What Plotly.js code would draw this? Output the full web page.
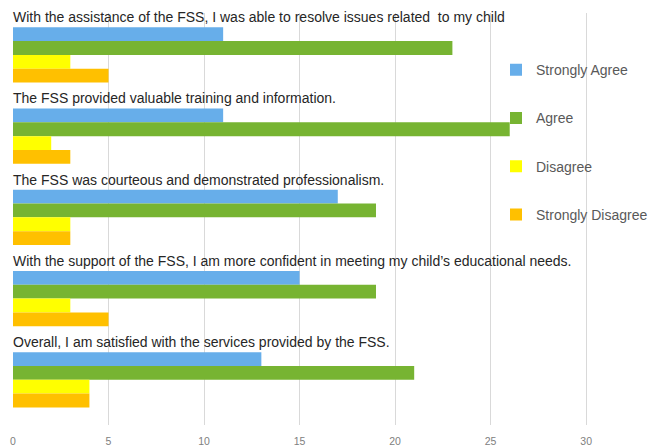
<!DOCTYPE html>
<html><head><meta charset="utf-8">
<script src="https://cdn.plot.ly/plotly-3.0.1.min.js"></script>
<style>html,body{margin:0;padding:0;background:#fff}#chart{width:653px;height:447px}</style>
</head><body><div id="chart"></div>
<script>
const categories = [
  "With the assistance of the FSS, I was able to resolve issues related  to my child",
  "The FSS provided valuable training and information.",
  "The FSS was courteous and demonstrated professionalism.",
  "With the support of the FSS, I am more confident in meeting my child\u2019s educational needs.",
  "Overall, I am satisfied with the services provided by the FSS."
];
const seriesNames = ["Strongly Agree", "Agree", "Disagree", "Strongly Disagree"];
const stronglyAgree = [11, 11, 17, 15, 13];
const agree = [23, 26, 19, 19, 21];
const disagree = [3, 2, 3, 3, 4];
const stronglyDisagree = [5, 3, 3, 5, 4];
const xTicks = [0, 5, 10, 15, 20, 25, 30];

const values = [stronglyAgree, agree, disagree, stronglyDisagree];
const colors = ["#67aeea", "#77b432", "#ffff00", "#ffc000"];
const barW = 0.17;
const firstOffset = -0.324;
const FONT = "Liberation Sans, Arial, sans-serif";

const traces = values.map((v, i) => ({
  type: "bar",
  orientation: "h",
  name: seriesNames[i],
  legendgroup: "g" + i,
  x: v,
  y: categories,
  width: barW,
  offset: firstOffset + i * barW,
  marker: {color: colors[i]},
  hoverinfo: "x+name"
}));

const annotations = categories.map(c => ({
  xref: "paper", yref: "y",
  x: 0, y: c,
  xanchor: "left", yanchor: "middle",
  yshift: 36.5,
  xshift: -2,
  text: c,
  showarrow: false,
  font: {family: FONT, size: 14, color: "#262626"}
}));

const layout = {
  width: 653, height: 447,
  margin: {l: 13, r: 0, t: 13, b: 22},
  paper_bgcolor: "#fff", plot_bgcolor: "#fff",
  barmode: "group",
  showlegend: true,
  legend: {
    x: 1, y: 0.9, xanchor: "right", yanchor: "top",
    bgcolor: "rgba(0,0,0,0)",
    traceorder: "grouped",
    tracegroupgap: 27,
    itemwidth: 30,
    font: {family: FONT, size: 14, color: "#595959"}
  },
  xaxis: {
    range: [0, 33.5],
    tickvals: xTicks,
    ticktext: xTicks.map(String),
    showgrid: true, gridcolor: "#d9d9d9", gridwidth: 1,
    zeroline: false, showline: false,
    ticks: "",
    ticklabelstandoff: 8,
    tickfont: {family: FONT, size: 10.5, color: "#808080"},
    fixedrange: true
  },
  yaxis: {
    type: "category",
    autorange: "reversed",
    showticklabels: false,
    showgrid: false, zeroline: false, showline: false,
    ticks: "",
    fixedrange: true
  },
  annotations: annotations
};

Plotly.newPlot("chart", traces, layout, {displayModeBar: false, staticPlot: true});
</script></body></html>
